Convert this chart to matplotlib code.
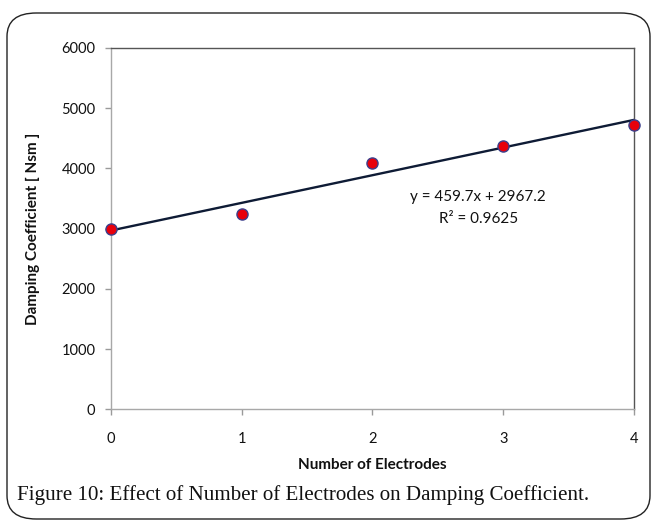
import numpy as np
import matplotlib
matplotlib.use("Agg")
import matplotlib.pyplot as plt
from matplotlib.patches import FancyBboxPatch

# data
electrodes = [0, 1, 2, 3, 4]
damping = [2995, 3245, 4090, 4380, 4725]
x_ticks = [0, 1, 2, 3, 4]
y_ticks = [0, 1000, 2000, 3000, 4000, 5000, 6000]
eq_label = "y = 459.7x + 2967.2"
r2_label = "R² = 0.9625"
caption = "Figure 10: Effect of Number of Electrodes on Damping Coefficient."

plt.rcParams['font.family'] = ['Lato', 'DejaVu Sans']

fig = plt.figure(figsize=(6.52, 5.21), dpi=100)
ax = fig.add_axes([0.1698, 0.2144, 0.8026, 0.6935])

# linear trendline, as excel does it
coef = np.polyfit(electrodes, damping, 1)
xs = np.array([x_ticks[0], x_ticks[-1]])
ax.plot(xs, np.polyval(coef, xs), color="#0e1b35", lw=1.7, zorder=2)

ax.plot(electrodes, damping, "o", ms=8, mfc="#e8000b", mec="#3b3f8c",
        mew=1.0, zorder=3, clip_on=False)

ax.set_xlim(0, 4)
ax.set_ylim(0, 6000)
ax.set_xticks(x_ticks)
ax.set_yticks(y_ticks)
ax.tick_params(axis="x", direction="out", length=4, width=1, color="#9a9a9a",
               labelsize=10.5, pad=12, labelcolor="#111111")
ax.tick_params(axis="y", direction="out", length=4, width=1, color="#9a9a9a",
               labelsize=10.5, pad=7, labelcolor="#111111")

for s in ["left", "bottom"]:
    ax.spines[s].set_color("#a8a8a8")
for s in ["top", "right"]:
    ax.spines[s].set_color("#555555")
for s in ax.spines.values():
    s.set_linewidth(1.0)

ax.set_xlabel("Number of Electrodes", fontsize=11, fontweight="bold",
              labelpad=9, color="#111111")
ax.set_ylabel("Damping Coefficient [ Nsm ]", fontsize=11, fontweight="bold",
              labelpad=15, color="#111111")

ax.text(0.702, 0.588, eq_label, transform=ax.transAxes, ha="center",
        va="center", fontsize=11, color="#111111")
ax.text(0.702, 0.527, r2_label, transform=ax.transAxes, ha="center",
        va="center", fontsize=11, color="#111111")

# rounded frame round the figure + caption
frame = FancyBboxPatch((7 / 652, 2 / 521), 643 / 652, 506 / 521,
                       boxstyle="round,pad=0,rounding_size=0.045",
                       transform=fig.transFigure, fill=False,
                       ec="#222222", lw=1.0)
fig.add_artist(frame)

fig.text(17 / 652, 1 - 500 / 521, caption, fontsize=15.1, va="baseline",
         ha="left", family="Liberation Serif", color="#111111")

fig.savefig("out.png", dpi=100)
